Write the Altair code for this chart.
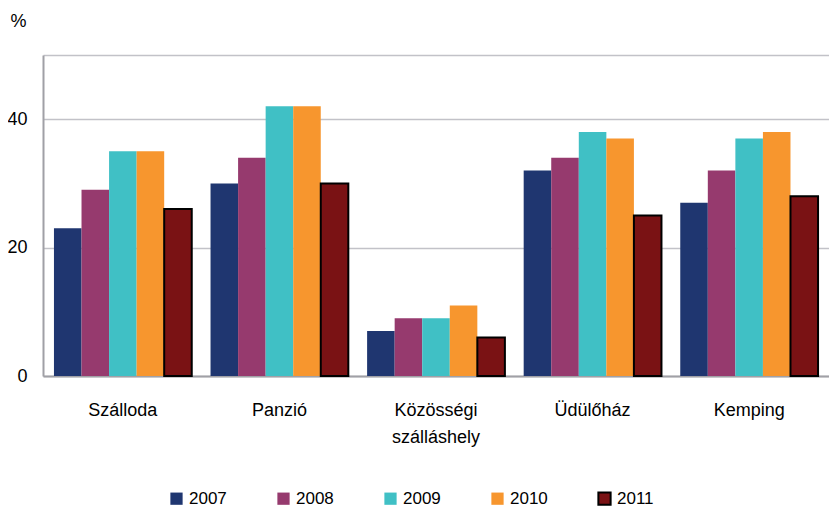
import altair as alt
import pandas as pd

categories = ["Szálloda", "Panzió", "Közösségi szálláshely", "Üdülőház", "Kemping"]
years = ["2007", "2008", "2009", "2010", "2011"]
values = {
    "2007": [23, 30, 7, 32, 27],
    "2008": [29, 34, 9, 34, 32],
    "2009": [35, 42, 9, 38, 37],
    "2010": [35, 42, 11, 37, 38],
    "2011": [26, 30, 6, 25, 28],
}
colors = ["#1F3670", "#963A6E", "#40C0C5", "#F7962E", "#7A1214"]
strokes = ["transparent", "transparent", "transparent", "transparent", "#000000"]
y_ticks = [0, 20, 40, 50]

rows = []
for y in years:
    for c, v in zip(categories, values[y]):
        rows.append({"cat": c, "year": y, "value": v})
df = pd.DataFrame(rows)

FONT = "Liberation Sans"

chart = alt.Chart(df).mark_bar(strokeWidth=2).encode(
    x=alt.X("cat:N", sort=categories,
            scale=alt.Scale(paddingInner=0.12, paddingOuter=0.07),
            axis=alt.Axis(title=None, labelAngle=0, ticks=False, labelFontSize=18,
                          labelFont=FONT, labelColor="#000000", labelPadding=25,
                          labelLineHeight=27, labelBaseline="top",
                          domainColor="#A0A0A6", domainWidth=2,
                          labelExpr="datum.label == 'Közösségi szálláshely' ? ['Közösségi', 'szálláshely'] : datum.label")),
    xOffset=alt.XOffset("year:N", sort=years, scale=alt.Scale(paddingInner=0, paddingOuter=0)),
    y=alt.Y("value:Q", scale=alt.Scale(domain=[0, 50], nice=False),
            axis=alt.Axis(values=y_ticks, ticks=False, labelFontSize=18, labelFont=FONT,
                          labelColor="#000000", labelPadding=16,
                          labelExpr="datum.value == 50 ? '' : datum.label",
                          domainColor="#A0A0A6", domainWidth=2,
                          grid=True, gridColor="#C2C2C8", gridWidth=1.5,
                          title="%", titleAngle=0, titleX=-33, titleY=-34,
                          titleAlign="left", titleBaseline="middle",
                          titleFontSize=18, titleFont=FONT, titleFontWeight="normal",
                          titleColor="#000000")),
    fill=alt.Fill("year:N", sort=years, scale=alt.Scale(domain=years, range=colors),
                  legend=alt.Legend(title=None)),
    stroke=alt.Stroke("year:N", sort=years, scale=alt.Scale(domain=years, range=strokes),
                      legend=alt.Legend(title=None)),
).properties(
    width=786, height=321,
    autosize=alt.AutoSizeParams(type="none"),
    padding={"left": 35, "top": 47, "right": 0, "bottom": 132},
).configure_view(
    stroke="transparent"
).configure_legend(
    orient="none", legendX=125, legendY=435, direction="horizontal",
    symbolType="square", symbolSize=150, symbolStrokeWidth=2,
    labelFontSize=17, labelFont=FONT, labelColor="#000000",
    labelOffset=4, columnPadding=46,
)

chart.save("out.html", embed_options={"renderer": "svg", "actions": False})
